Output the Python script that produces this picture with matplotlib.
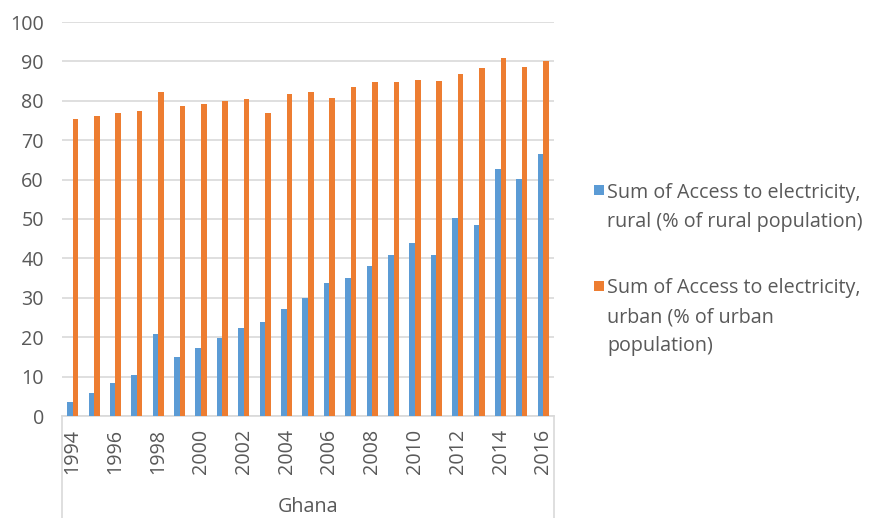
import matplotlib
matplotlib.use('Agg')
import matplotlib.pyplot as plt
from matplotlib.patches import Rectangle
import numpy as np

plt.rcParams['font.family'] = ['Open Sans', 'DejaVu Sans']

years = [str(y) for y in range(1994, 2017)]
rural = [3.6, 5.8, 8.3, 10.4, 20.8, 14.9, 17.3, 19.9, 22.3, 23.9, 27.2,
         30.0, 33.8, 35.1, 38.1, 40.9, 43.9, 40.9, 50.3, 48.5, 62.8, 60.1, 66.4]
urban = [75.5, 76.2, 76.8, 77.5, 82.3, 78.7, 79.2, 79.9, 80.5, 76.8, 81.6,
         82.3, 80.8, 83.4, 84.8, 84.8, 85.3, 85.0, 86.9, 88.4, 90.8, 88.7, 90.0]
series_labels = ['Sum of Access to electricity,\nrural (% of rural population)',
                 'Sum of Access to electricity,\nurban (% of urban\npopulation)']
colors = ['#5B9BD5', '#ED7D31']
group_label = 'Ghana'

W, H = 874, 518
fig = plt.figure(figsize=(W / 100, H / 100), dpi=100)
ax = fig.add_axes([62 / W, 1 - 416 / H, (554 - 62) / W, (416 - 22) / H])

text_col = '#595959'
grid_col = '#D9D9D9'
fs = 14.2

x = np.arange(len(years))
bw = 0.26
ax.bar(x - bw / 2, rural, width=bw, color=colors[0], zorder=3)
ax.bar(x + bw / 2, urban, width=bw, color=colors[1], zorder=3)

ax.set_xlim(-0.5, len(years) - 0.5)
ax.set_ylim(0, 100)
ax.set_yticks(range(0, 101, 10))
ax.yaxis.grid(True, color=grid_col, linewidth=1.2, zorder=0)
ax.tick_params(axis='y', length=0, pad=13, labelsize=fs, labelcolor=text_col)
ax.set_xticks(x[::2])
ax.set_xticklabels(years[::2], rotation=90, va='top')
ax.tick_params(axis='x', length=0, pad=9, labelsize=fs, labelcolor=text_col)
for s in ['top', 'right', 'left']:
    ax.spines[s].set_visible(False)
ax.spines['bottom'].set_color(grid_col)
ax.spines['bottom'].set_linewidth(1.2)

# category box under the plot area
for xx in (0, 1):
    ax.plot([xx, xx], [0, -0.3], transform=ax.transAxes, color=grid_col,
            linewidth=1.2, clip_on=False)

fig.text(308 / W, 1 - 507 / H, group_label, ha='center', va='center',
         fontsize=fs, color=text_col)

# legend
sq = 10
for lab, col, yc in zip(series_labels, colors, [190, 285.5]):
    fig.patches.append(Rectangle((594 / W, 1 - (yc + sq / 2) / H), sq / W, sq / H,
                                 transform=fig.transFigure, facecolor=col,
                                 edgecolor='none'))
    fig.text(607 / W, 1 - (yc - 7) / H, lab, ha='left', va='top', fontsize=fs,
             color=text_col, linespacing=1.6)

plt.savefig('out.png', dpi=100, facecolor='white')
plt.close()
